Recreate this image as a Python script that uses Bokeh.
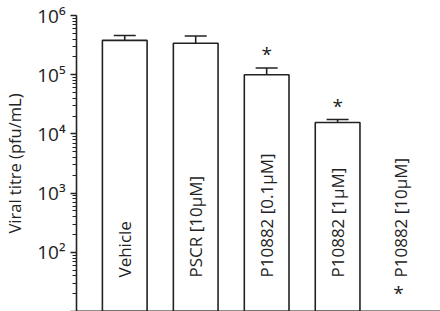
import numpy as np
from bokeh.plotting import figure
from bokeh.models import Range1d, LogTicker, CustomJSTickFormatter, ColumnDataSource, LinearAxis
from bokeh.core.properties import value
from bokeh.embed import file_html
from bokeh.resources import INLINE

# ---- data ----
categories = ["Vehicle", "PSCR [10\u03bcM]", "P10882 [0.1\u03bcM]", "P10882 [1\u03bcM]", "P10882 [10\u03bcM]"]
titre = [3.8e5, 3.4e5, 1.0e5, 1.56e4, np.nan]
titre_upper = [4.6e5, 4.5e5, 1.3e5, 1.75e4, np.nan]
significant = [False, False, True, True, True]
tick_exponents = [2, 3, 4, 5, 6]
y_label = "Viral titre (pfu/mL)"

FONT = "Open Sans"
INK = "#222222"
x = list(range(len(categories)))

p = figure(width=440, height=311, y_axis_type="log",
           x_range=Range1d(-0.68, 4.45), y_range=Range1d(10, 1e6),
           output_backend="svg", toolbar_location=None,
           min_border_left=73, min_border_right=0, min_border_top=15, min_border_bottom=0)
p.outline_line_color = None
p.grid.visible = False
p.background_fill_color = "white"

# axes
p.xaxis.visible = False
xa = LinearAxis(major_tick_line_color=None, minor_tick_line_color=None,
                major_tick_out=0, major_tick_in=0, minor_tick_out=0, minor_tick_in=0,
                major_label_standoff=0,
                major_label_text_font_size="0px", axis_line_width=2.2,
                axis_line_color=INK)
xa.formatter = CustomJSTickFormatter(code="return ''")
p.add_layout(xa, "below")

ya = p.yaxis[0]
ya.ticker = LogTicker(desired_num_ticks=6, num_minor_ticks=10)
ya.formatter = CustomJSTickFormatter(args=dict(exps=tick_exponents), code="""
const e = Math.round(Math.log10(tick));
if (!exps.includes(e)) return '';
const sup = ['\u2070','\u00b9','\u00b2','\u00b3','\u2074','\u2075','\u2076','\u2077','\u2078','\u2079'];
return '10' + sup[e];
""")
ya.major_label_text_font = FONT
ya.major_label_text_font_size = "19px"
ya.major_label_text_color = INK
ya.major_label_standoff = 5
ya.axis_line_width = 1.6
ya.axis_line_color = INK
ya.major_tick_line_width = 1.6
ya.major_tick_line_color = INK
ya.minor_tick_line_color = INK
ya.minor_tick_line_width = 1.2
ya.major_tick_in = 0
ya.major_tick_out = 6
ya.minor_tick_in = 0
ya.minor_tick_out = 4
ya.axis_label = y_label
ya.axis_label_text_font = FONT
ya.axis_label_text_font_size = "16.5px"
ya.axis_label_text_font_style = "normal"
ya.axis_label_text_color = INK
ya.axis_label_standoff = 8

# bars
src = ColumnDataSource(dict(x=x, top=titre, upper=titre_upper, cat=categories))
p.vbar(x="x", top="top", bottom=10, width=0.63, source=src,
       fill_color="white", line_color=INK, line_width=1.6)

# error bars (upper only)
p.segment(x0="x", y0="top", x1="x", y1="upper", source=src, line_color=INK, line_width=1.6)
cap_l = [xi - 0.155 for xi in x]
cap_r = [xi + 0.155 for xi in x]
p.segment(x0=cap_l, y0=titre_upper, x1=cap_r, y1=titre_upper, line_color=INK, line_width=1.6)

# rotated category labels inside bars
p.text(x=x, y=[10] * len(x), text=categories, angle=np.pi / 2,
       x_offset=[0, 0, 0, 0, -8], y_offset=-34,
       text_align="left", text_baseline="middle",
       text_font=value(FONT), text_font_size="17px", text_color=INK)

# significance asterisks
sx = [x[i] for i in range(len(x)) if significant[i] and not np.isnan(titre_upper[i])]
sy = [titre_upper[i] for i in range(len(x)) if significant[i] and not np.isnan(titre_upper[i])]
p.text(x=sx, y=sy, text=["*"] * len(sx), y_offset=-1,
       text_align="center", text_baseline="bottom",
       text_font=value(FONT), text_font_size="19px", text_color=INK)
nx = [x[i] for i in range(len(x)) if significant[i] and np.isnan(titre_upper[i])]
p.text(x=nx, y=[10] * len(nx), text=["*"] * len(nx), x_offset=-10, y_offset=-6,
       text_align="center", text_baseline="bottom",
       text_font=value(FONT), text_font_size="19px", text_color=INK)

open("out.html", "w").write(file_html(p, INLINE))
